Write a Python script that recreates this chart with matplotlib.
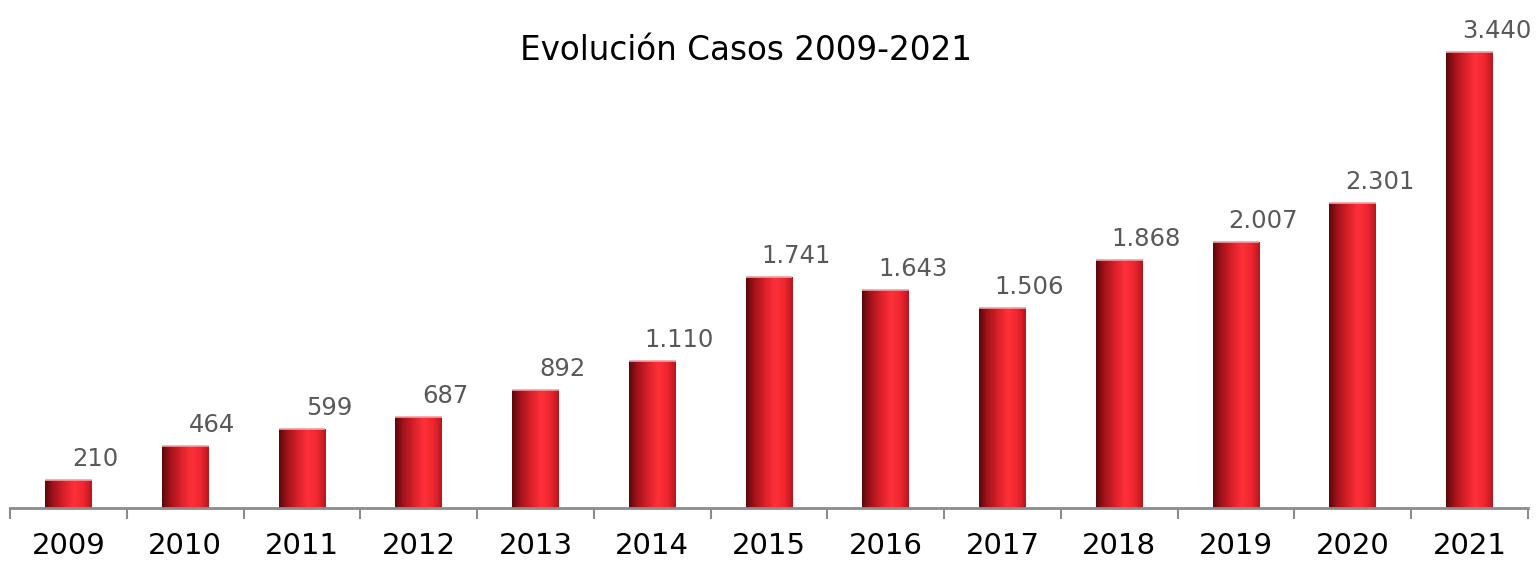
import numpy as np
import matplotlib
matplotlib.use("Agg")
import matplotlib.pyplot as plt
from matplotlib.colors import LinearSegmentedColormap

# datos
years = ["2009", "2010", "2011", "2012", "2013", "2014", "2015",
         "2016", "2017", "2018", "2019", "2020", "2021"]
cases = [210, 464, 599, 687, 892, 1110, 1741, 1643, 1506, 1868, 2007, 2301, 3440]
title = "Evolución Casos 2009-2021"

plt.rcParams['font.family'] = ['DejaVu Sans']

fig = plt.figure(figsize=(15.38, 5.62), dpi=100)
ax = fig.add_axes([10 / 1538, 54 / 562, 1518 / 1538, 508 / 562])

x = np.arange(len(years))
bars = ax.bar(x, cases, width=0.4, color='none', edgecolor='none', zorder=2)

# degradado horizontal tipo cilindro
cmap = LinearSegmentedColormap.from_list(
    "cyl", [(0.0, "#5a080b"), (0.18, "#a3131a"), (0.4, "#d9202a"),
            (0.62, "#ff3039"), (0.82, "#ee2630"), (1.0, "#b8161d")])
grad = np.linspace(0, 1, 256).reshape(1, -1)
for b in bars:
    x0, y0 = b.get_x(), b.get_y()
    w, h = b.get_width(), b.get_height()
    im = ax.imshow(grad, cmap=cmap, aspect='auto', extent=[x0, x0 + w, y0, y0 + h],
                   zorder=2, interpolation='bilinear')
    im.set_clip_path(b)
    ax.plot([x0, x0 + w], [y0 + h, y0 + h], color='#f3a0a4', lw=1.2, zorder=3,
            solid_capstyle='butt')

# etiquetas de valor (separador de miles con punto)
for xi, v in zip(x, cases):
    lab = f"{v:,}".replace(",", ".")
    ax.annotate(lab, (xi, v), xytext=(27, 9), textcoords='offset pixels',
                ha='center', va='bottom', fontsize=17.5, color='#595959')

ax.set_xlim(-0.5, len(years) - 0.5)
ax.set_ylim(0, 3830)

for s in ['top', 'right', 'left']:
    ax.spines[s].set_visible(False)
ax.spines['bottom'].set_color('#8c8c8c')
ax.spines['bottom'].set_linewidth(2)
ax.set_yticks([])

ax.set_xticks(x)
ax.set_xticklabels(years, fontsize=21, color='black')
ax.tick_params(axis='x', which='major', length=0, pad=17)
ax.set_xticks(np.arange(len(years) + 1) - 0.5, minor=True)
ax.tick_params(axis='x', which='minor', length=8, width=1.5, color='#8c8c8c')

fig.text(746 / 1538, 1 - 50 / 562, title, ha='center', va='center',
         fontsize=23.5, color='black')

fig.savefig("out.png", dpi=100)
